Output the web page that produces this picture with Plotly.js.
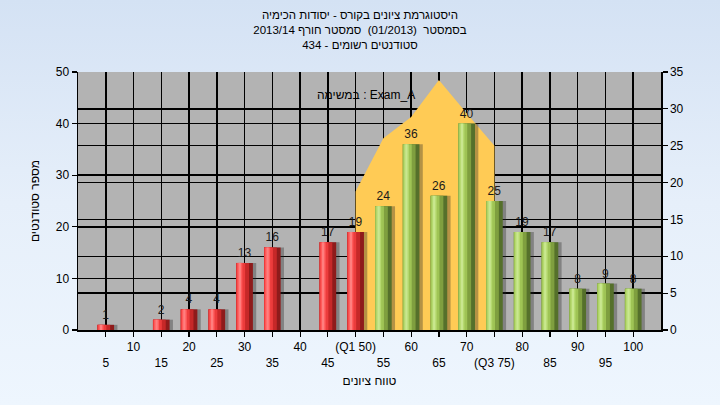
<!DOCTYPE html>
<html>
<head>
<meta charset="utf-8">
<script src="https://cdn.plot.ly/plotly-3.0.1.min.js"></script>
<style>
  html, body { margin:0; padding:0; }
  body { width:720px; height:405px; background: linear-gradient(to bottom, #d4e2f4 0%, #e6effa 50%, #eef6fe 100%); }
  #chart { width:720px; height:405px; }
</style>
</head>
<body>
<div id="chart"></div>
<script>
// ---- data ----
const categories = [5,10,15,20,25,30,35,40,45,50,55,60,65,70,75,80,85,90,95,100];
const studentCounts = [1,0,2,4,4,13,16,0,17,19,24,36,26,40,25,19,17,8,9,8];
const tickLabels = ['<br>5','10','<br>15','20','<br>25','30','<br>35','40','<br>45','(Q1 50)',
                    '<br>55','60','<br>65','70','<br>(Q3 75)','80','<br>85','90','<br>95','100'];
const areaX = [50,55,60,65,70,75];
const areaY = [18.8,26,28.9,33.9,29.4,25];
const passThreshold = 50;

const titleText = 'היסטוגרמת ציונים בקורס - יסודות הכימיה<br>בסמסטר  (01/2013)  סמסטר חורף 2013/14<br>סטודנטים רשומים - 434';
const xTitle = 'טווח ציונים';
const yTitle = 'מספר סטודנטים';
const noteText = 'במשימה : Exam_A';

// ---- styles ----
const FONT = '"Liberation Sans", Arial, sans-serif';
const isRed = categories.map(c => c <= passThreshold);
const pal = (r, g) => isRed.map(v => v ? r : g);
const layers = [
  {w:3.0, off:-0.9, col: pal('rgba(40,40,40,0.35)','rgba(40,40,40,0.35)')},
  {w:3.0, off:-1.5, col: pal('#8e1b1b','#55702b')},
  {w:2.3, off:-1.5, col: pal('#c62828','#7f9f3f')},
  {w:1.6, off:-1.5, col: pal('#ec3c3c','#9fc455')},
  {w:0.9, off:-1.3, col: pal('#ff5c5c','#b5d96f')},
  {w:0.4, off:-1.05, col: pal('#ff7f7f','#c9e78f')}
];

const traces = [];
traces.push({
  type:'scatter', x: areaX, y: areaY, mode:'lines', fill:'tozeroy',
  fillcolor:'#ffcb55', line:{color:'#ffcb55', width:0}, xaxis:'x', yaxis:'y',
  hoverinfo:'skip', showlegend:false
});
layers.forEach((L, i) => {
  traces.push({
    type:'bar', x: categories, y: studentCounts, xaxis:'x', yaxis:'y2',
    width: L.w, offset: L.off,
    marker:{color: L.col, line:{width:0}},
    text: i === 1 ? studentCounts.map(v => v > 0 ? String(v) : '') : undefined,
    textposition: i === 1 ? 'outside' : 'none',
    textfont:{family: FONT, size:12, color:'#1a1a1a'},
    cliponaxis:false, showlegend:false, hoverinfo:'skip'
  });
});

const axisCommon = {
  showline:true, linecolor:'#000', linewidth:1.5,
  ticks:'outside', ticklen:5, tickcolor:'#000', tickwidth:1.2,
  showgrid:true, gridcolor:'#000', gridwidth:1.5,
  zeroline:false, fixedrange:true,
  tickfont:{family: FONT, size:12, color:'#000'}
};

const layout = {
  width:720, height:405,
  margin:{l:78, r:59, t:72, b:75},
  paper_bgcolor:'rgba(0,0,0,0)',
  plot_bgcolor:'#b3b3b3',
  barmode:'overlay',
  showlegend:false,
  title:{text:titleText, x:0.5, xanchor:'center', y:0.952, yanchor:'top', yref:'container',
         font:{family: FONT, size:11.5, color:'#000'}},
  xaxis: Object.assign({}, axisCommon, {
    range:[0,105], tickmode:'array', tickvals: categories, ticktext: tickLabels,
    tickangle:0,
    title:{text:xTitle, standoff:8, font:{family: FONT, size:12, color:'#000'}}
  }),
  yaxis: Object.assign({}, axisCommon, {
    side:'right', range:[0,35], dtick:5, tick0:0, anchor:'x'
  }),
  yaxis2: Object.assign({}, axisCommon, {
    side:'left', overlaying:'y', range:[0,50], dtick:10, tick0:0, anchor:'x',
    title:{text:yTitle, standoff:13, font:{family: FONT, size:12, color:'#000'}}
  }),
  annotations:[{
    text: noteText, xref:'paper', yref:'paper', x:0.494, y:0.946,
    showarrow:false, font:{family: FONT, size:12, color:'#000'}
  }]
};

Plotly.newPlot('chart', traces, layout, {staticPlot:true, displayModeBar:false});
</script>
</body>
</html>
